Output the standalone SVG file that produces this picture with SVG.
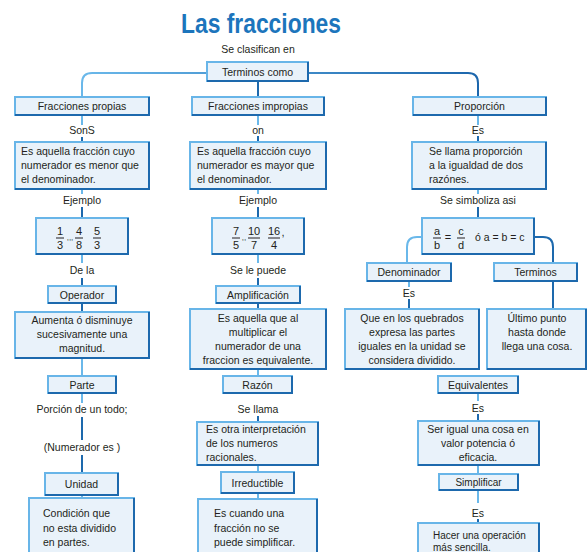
<svg xmlns="http://www.w3.org/2000/svg" width="588" height="552" viewBox="0 0 588 552">
<defs>
<linearGradient id="hg" gradientUnits="userSpaceOnUse" x1="82" y1="0" x2="478" y2="0">
<stop offset="0" stop-color="#6ab8ea"/><stop offset="1" stop-color="#1c66ac"/>
</linearGradient>
<style>
.bx{fill:#e9f2fa;stroke:#68b5e8;stroke-width:2}
.bd{fill:none;stroke:#1d69ad;stroke-width:2}
.t{font-family:"Liberation Sans",Arial,sans-serif;font-size:10.5px;fill:#231f20}
.c{text-anchor:middle}
.f{font-family:"Liberation Sans",Arial,sans-serif;font-size:11px;fill:#231f20;text-anchor:middle}
.fb{stroke:#231f20;stroke-width:1}
.lt{fill:none;stroke:#6ab8ea;stroke-width:2}
.dk{fill:none;stroke:#1d69ad;stroke-width:2}
.title{font-family:"Liberation Sans",Arial,sans-serif;font-weight:bold;font-size:27px;fill:#1c75bc;text-anchor:middle}
</style>
</defs>

<text class="title" x="261" y="33" textLength="160" lengthAdjust="spacingAndGlyphs">Las fracciones</text>
<text class="t c" x="258" y="53">Se clasifican en</text>

<g id="connectors">
<path d="M207,73 H92 Q82,73 82,83 V97" fill="none" stroke="url(#hg)" stroke-width="2"/>
<path d="M308,73 H468 Q478,73 478,83 V97" fill="none" stroke="url(#hg)" stroke-width="2"/>
<path class="dk" d="M258,81 V97"/>
<!-- col1 -->
<path class="lt" d="M82,115 V125"/><path class="dk" d="M82,137 V142"/>
<path class="lt" d="M82,189 V194"/><path class="dk" d="M82,207 V218"/>
<path class="lt" d="M82,254 V263"/><path class="dk" d="M82,278 V286"/>
<path class="dk" d="M82,303 V312"/>
<path class="lt" d="M82,358 V376"/>
<path class="lt" d="M82,393 V403"/>
<path class="dk" d="M82,417 V440"/>
<path class="dk" d="M82,455 V473"/>
<path class="lt" d="M82,495 V498"/>
<!-- col2 -->
<path class="lt" d="M258,115 V125"/><path class="dk" d="M258,136 V142"/>
<path class="lt" d="M258,189 V194"/><path class="dk" d="M258,207 V218"/>
<path class="lt" d="M258,254 V263"/><path class="dk" d="M258,278 V286"/>
<path class="dk" d="M258,303 V309"/>
<path class="lt" d="M258,369 V376"/>
<path class="dk" d="M258,416 V422"/>
<path class="lt" d="M258,465 V472"/>
<path class="lt" d="M258,493 V499"/>
<!-- col3 -->
<path class="lt" d="M478,115 V125"/><path class="dk" d="M478,136 V142"/>
<path class="lt" d="M478,189 V194"/><path class="dk" d="M478,207 V218"/>
<path class="lt" d="M422,237 H417 Q407,237 407,247 V263"/>
<path class="dk" d="M534,237 H543 Q553,237 553,247 V263"/>
<path class="lt" d="M409,281 V287"/><path class="dk" d="M409,299 V309"/>
<path class="dk" d="M553,281 V309"/>
<path class="lt" d="M478,393 V401"/><path class="dk" d="M478,414 V421"/>
<path class="lt" d="M478,465 V474"/>
<path class="lt" d="M478,490 V503"/><path class="dk" d="M478,519 V523"/>
</g>

<g id="labels">
<text class="t c" x="82" y="134">SonS</text>
<text class="t c" x="82" y="204">Ejemplo</text>
<text class="t c" x="82" y="274">De la</text>
<text class="t c" x="82" y="413">Porción de un todo;</text>
<text class="t c" x="82" y="451">(Numerador es )</text>
<text class="t c" x="258" y="134">on</text>
<text class="t c" x="258" y="204">Ejemplo</text>
<text class="t c" x="258" y="274">Se le puede</text>
<text class="t c" x="258" y="413">Se llama</text>
<text class="t c" x="478" y="134">Es</text>
<text class="t c" x="478" y="204">Se simboliza asi</text>
<text class="t c" x="409" y="297">Es</text>
<text class="t c" x="478" y="412">Es</text>
<text class="t c" x="478" y="517">Es</text>
</g>

<g id="terminos-como"><rect class="bx" x="207" y="62" width="101" height="19"/><path class="bd" d="M308,62 V81 H207"/><text class="t c" x="257.5" y="75.5">Terminos como</text></g>

<g id="fracciones-propias"><rect class="bx" x="15" y="97" width="134" height="18"/><path class="bd" d="M149,97 V115 H15"/><text class="t c" x="82" y="110">Fracciones propias</text></g>
<g id="fracciones-impropias"><rect class="bx" x="192" y="97" width="132" height="18"/><path class="bd" d="M324,97 V115 H192"/><text class="t c" x="258" y="110">Fracciones impropias</text></g>
<g id="proporcion"><rect class="bx" x="413" y="97" width="133" height="18"/><path class="bd" d="M546,97 V115 H413"/><text class="t c" x="479.5" y="110">Proporción</text></g>

<!-- column 1 -->
<g id="def-propias"><rect class="bx" x="15" y="142" width="134" height="47"/><path class="bd" d="M149,142 V189 H15"/>
<text class="t" x="21" y="155">Es aquella fracción cuyo</text><text class="t" x="21" y="169">numerador es menor que</text><text class="t" x="21" y="183">el denominador.</text></g>
<g id="ej-propias"><rect class="bx" x="36" y="218" width="92" height="36"/><path class="bd" d="M128,218 V254 H36"/>
<text class="f" x="60" y="235">1</text><line class="fb" x1="56" y1="238" x2="64" y2="238"/><text class="f" x="60" y="249">3</text>
<text class="f" x="70" y="240" style="font-size:8px">,,,</text>
<text class="f" x="79" y="235">4</text><line class="fb" x1="75" y1="238" x2="83" y2="238"/><text class="f" x="79" y="249">8</text>
<text class="f" x="97" y="235">5</text><line class="fb" x1="93" y1="238" x2="101" y2="238"/><text class="f" x="97" y="249">3</text></g>
<g id="operador"><rect class="bx" x="48" y="286" width="68" height="17"/><path class="bd" d="M116,286 V303 H48"/><text class="t c" x="82" y="298.5">Operador</text></g>
<g id="def-operador"><rect class="bx" x="15" y="312" width="134" height="46"/><path class="bd" d="M149,312 V358 H15"/>
<text class="t c" x="82" y="324">Aumenta ó disminuye</text><text class="t c" x="82" y="338">sucesivamente una</text><text class="t c" x="82" y="352">magnitud.</text></g>
<g id="parte"><rect class="bx" x="48" y="376" width="68" height="17"/><path class="bd" d="M116,376 V393 H48"/><text class="t c" x="82" y="388.5">Parte</text></g>
<g id="unidad"><rect class="bx" x="45" y="473" width="73" height="22"/><path class="bd" d="M118,473 V495 H45"/><text class="t c" x="81.5" y="488">Unidad</text></g>
<g id="def-unidad"><rect class="bx" x="29" y="498" width="105" height="62"/><path class="bd" d="M134,498 V560"/>
<text class="t" x="43" y="517">Condición que</text><text class="t" x="43" y="532">no esta dividido</text><text class="t" x="43" y="546">en partes.</text></g>

<!-- column 2 -->
<g id="def-impropias"><rect class="bx" x="190" y="142" width="136" height="47"/><path class="bd" d="M326,142 V189 H190"/>
<text class="t" x="197" y="155">Es aquella fracción cuyo</text><text class="t" x="197" y="169">numerador es mayor que</text><text class="t" x="197" y="183">el denominador.</text></g>
<g id="ej-impropias"><rect class="bx" x="212" y="218" width="92" height="36"/><path class="bd" d="M304,218 V254 H212"/>
<text class="f" x="236" y="235">7</text><line class="fb" x1="232" y1="238" x2="240" y2="238"/><text class="f" x="236" y="249">5</text>
<text class="f" x="244" y="240" style="font-size:8px">,,</text>
<text class="f" x="254" y="235">10</text><line class="fb" x1="248" y1="238" x2="260" y2="238"/><text class="f" x="254" y="249">7</text>
<text class="f" x="274" y="235">16</text><line class="fb" x1="268" y1="238" x2="280" y2="238"/><text class="f" x="274" y="249">4</text>
<text class="f" x="283" y="236">,</text></g>
<g id="amplificacion"><rect class="bx" x="216" y="286" width="84" height="17"/><path class="bd" d="M300,286 V303 H216"/><text class="t c" x="258" y="298.5">Amplificación</text></g>
<g id="def-amplificacion"><rect class="bx" x="190" y="309" width="136" height="60"/><path class="bd" d="M326,309 V369 H190"/>
<text class="t c" x="258" y="322">Es aquella que al</text><text class="t c" x="258" y="336">multiplicar el</text><text class="t c" x="258" y="350">numerador de una</text><text class="t c" x="258" y="364">fraccion es equivalente.</text></g>
<g id="razon"><rect class="bx" x="223" y="376" width="69" height="17"/><path class="bd" d="M292,376 V393 H223"/><text class="t c" x="257.5" y="388.5">Razón</text></g>
<g id="def-razon"><rect class="bx" x="197" y="422" width="121" height="43"/><path class="bd" d="M318,422 V465 H197"/>
<text class="t" x="206" y="433">Es otra interpretación</text><text class="t" x="206" y="447">de los numeros</text><text class="t" x="206" y="461">racionales.</text></g>
<g id="irreductible"><rect class="bx" x="221" y="472" width="73" height="21"/><path class="bd" d="M294,472 V493 H221"/><text class="t c" x="257.5" y="486.5">Irreductible</text></g>
<g id="def-irreductible"><rect class="bx" x="198" y="499" width="119" height="62"/><path class="bd" d="M317,499 V561"/>
<text class="t" x="214" y="517">Es cuando una</text><text class="t" x="214" y="532">fracción no se</text><text class="t" x="214" y="546">puede simplificar.</text></g>

<!-- column 3 -->
<g id="def-proporcion"><rect class="bx" x="412" y="142" width="134" height="47"/><path class="bd" d="M546,142 V189 H412"/>
<text class="t" x="429" y="155">Se llama proporción</text><text class="t" x="429" y="169">a la igualdad de dos</text><text class="t" x="429" y="183">razónes.</text></g>
<g id="formula"><rect class="bx" x="422" y="218" width="112" height="36"/><path class="bd" d="M534,218 V254 H422"/>
<text class="f" x="437" y="235">a</text><line class="fb" x1="433" y1="238" x2="441" y2="238"/><text class="f" x="437" y="249">b</text>
<text class="f" x="448" y="241">=</text>
<text class="f" x="461" y="235">c</text><line class="fb" x1="457" y1="238" x2="465" y2="238"/><text class="f" x="461" y="249">d</text>
<text class="t" x="475" y="241">ó  a = b = c</text></g>
<g id="denominador"><rect class="bx" x="367" y="263" width="84" height="18"/><path class="bd" d="M451,263 V281 H367"/><text class="t c" x="409" y="276">Denominador</text></g>
<g id="terminos"><rect class="bx" x="494" y="263" width="83" height="18"/><path class="bd" d="M577,263 V281 H494"/><text class="t c" x="535.5" y="276">Terminos</text></g>
<g id="def-denominador"><rect class="bx" x="345" y="309" width="134" height="60"/><path class="bd" d="M479,309 V369 H345"/>
<text class="t c" x="412" y="322">Que en los quebrados</text><text class="t c" x="412" y="336">expresa las partes</text><text class="t c" x="412" y="350">iguales en la unidad se</text><text class="t c" x="412" y="364">considera dividido.</text></g>
<g id="def-terminos"><rect class="bx" x="487" y="309" width="99" height="60"/><path class="bd" d="M586,309 V369 H487"/>
<text class="t c" x="537" y="322">Último punto</text><text class="t c" x="537" y="336">hasta donde</text><text class="t c" x="537" y="350">llega una cosa.</text></g>
<g id="equivalentes"><rect class="bx" x="438" y="376" width="80" height="17"/><path class="bd" d="M518,376 V393 H438"/><text class="t c" x="478" y="388.5">Equivalentes</text></g>
<g id="def-equivalentes"><rect class="bx" x="418" y="421" width="121" height="44"/><path class="bd" d="M539,421 V465 H418"/>
<text class="t c" x="478" y="433">Ser igual una cosa en</text><text class="t c" x="478" y="447">valor potencia ó</text><text class="t c" x="478" y="461">eficacia.</text></g>
<g id="simplificar"><rect class="bx" x="439" y="474" width="79" height="16"/><path class="bd" d="M518,474 V490 H439"/><text class="t c" x="478.5" y="486" style="font-size:10px">Simplificar</text></g>
<g id="def-simplificar"><rect class="bx" x="418" y="523" width="121" height="40"/><path class="bd" d="M539,523 V563"/>
<text class="t" x="433" y="539" style="font-size:10px">Hacer una operación</text><text class="t" x="433" y="551" style="font-size:10px">más sencilla.</text></g>
</svg>
